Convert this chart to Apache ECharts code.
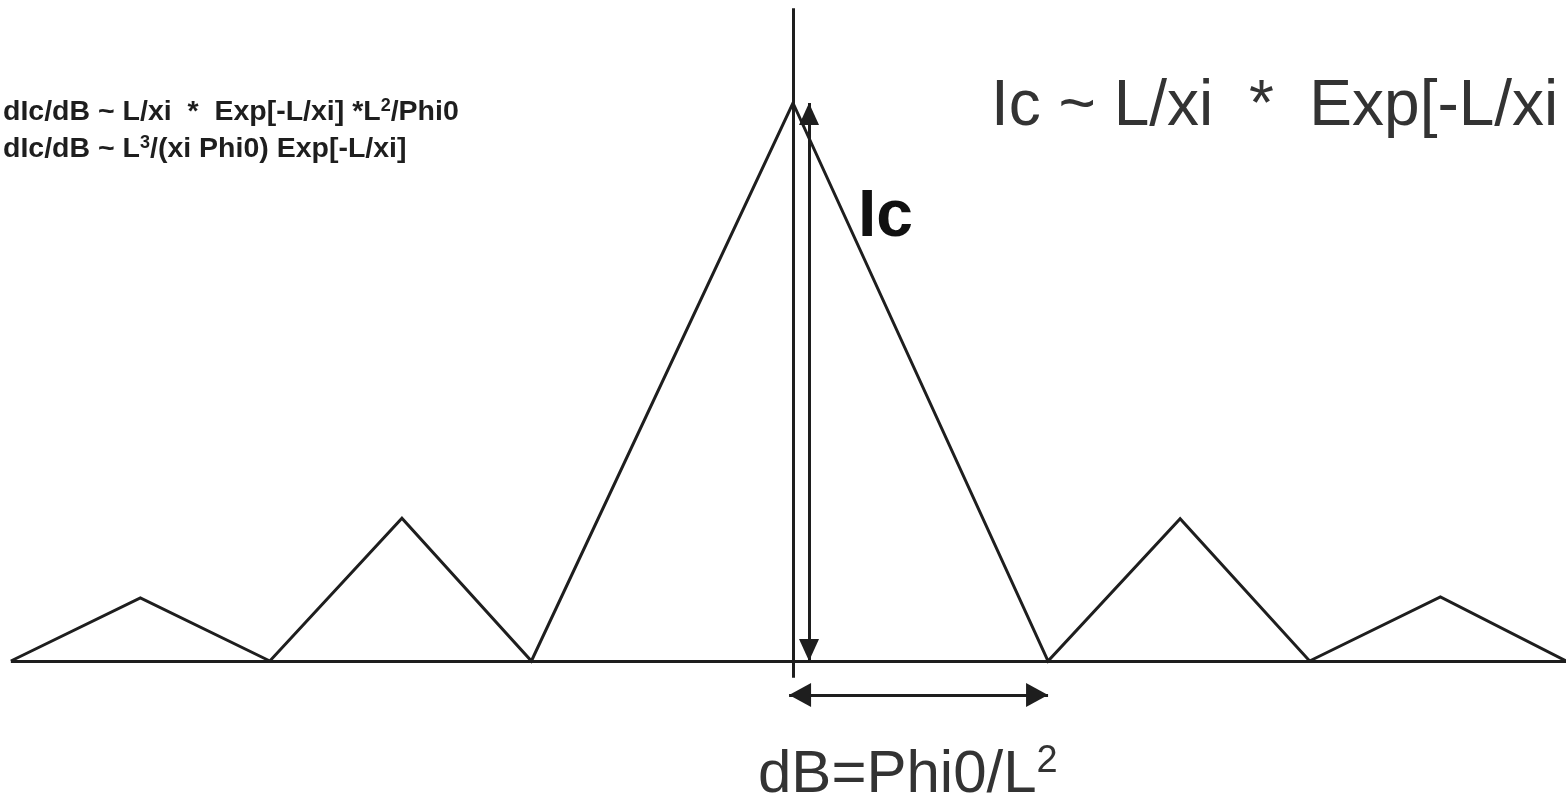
<!DOCTYPE html>
<html>
<head>
<meta charset="utf-8">
<title>Ic interference pattern</title>
<script src="https://cdn.jsdelivr.net/npm/echarts@6/dist/echarts.min.js"></script>
<style>
  html, body { margin: 0; padding: 0; background: #ffffff; }
  #chart { width: 1566px; height: 804px; }
</style>
</head>
<body>
<div id="chart"></div>
<script>
// Field position in units of one period dB (centre lobe at 0)
const fieldB = [-3.02, -2.52, -2.02, -1.51, -1.01, 0, 0.985, 1.495, 1.995, 2.5, 2.985];
// Critical current, normalised to the central maximum
const criticalCurrent = [0, 0.113, 0, 0.256, 0, 1, 0, 0.255, 0, 0.115, 0];

// Annotation geometry, in the same axis units
const centreLine = { x: 0, from: 1.17, to: -0.03 };
const icArrow = { x: 0.062, from: 0, to: 1 };
const periodArrow = { y: -0.061, from: -0.015, to: 0.985 };

const ink = '#1e1e1e';
const curve = fieldB.map((b, i) => [b, criticalCurrent[i]]);

// Arrow heads sit with their tip on the end point of the line
function arrowEnd(coord, size) {
  return { coord: coord, symbol: 'triangle', symbolSize: size, symbolOffset: [0, size[1] / 2] };
}

const smallRich = {
  b: { fontFamily: 'Liberation Sans', fontWeight: 'bold', fontSize: 28.5, lineHeight: 30, verticalAlign: 'bottom', fill: ink },
  s: { fontFamily: 'Liberation Sans', fontWeight: 'bold', fontSize: 18, lineHeight: 30, verticalAlign: 'top', fill: ink }
};

const chart = echarts.init(document.getElementById('chart'), null, { renderer: 'canvas' });

chart.setOption({
  backgroundColor: '#ffffff',
  animation: false,
  grid: { left: 0, right: 0, top: 2.56, bottom: 103.94 },
  xAxis: {
    type: 'value', min: -3.062, max: 2.985,
    show: false
  },
  yAxis: {
    type: 'value', min: -0.07, max: 1.18,
    show: false
  },
  series: [
    {
      type: 'line',
      data: curve,
      clip: false,
      showSymbol: false,
      lineStyle: { color: ink, width: 3, join: 'miter' },
      markLine: {
        silent: true,
        symbol: 'none',
        label: { show: false },
        lineStyle: { color: ink, width: 3, type: 'solid' },
        data: [
          // baseline under the lobes
          [{ coord: [fieldB[0], 0] }, { coord: [fieldB[fieldB.length - 1], 0] }],
          // centre marker
          [{ coord: [centreLine.x, centreLine.from] }, { coord: [centreLine.x, centreLine.to] }]
        ]
      }
    },
    {
      type: 'line',
      data: [],
      clip: false,
      markLine: {
        silent: true,
        label: { show: false },
        lineStyle: { color: ink, width: 3, type: 'solid' },
        itemStyle: { color: ink },
        data: [
          [arrowEnd([icArrow.x, icArrow.from], [20, 22]), arrowEnd([icArrow.x, icArrow.to], [20, 22])],
          [arrowEnd([periodArrow.from, periodArrow.y], [24, 22]), arrowEnd([periodArrow.to, periodArrow.y], [24, 22])]
        ]
      }
    }
  ],
  graphic: [
    {
      type: 'text', left: 3, top: 97,
      style: {
        text: '{b|dIc/dB ~ L/xi  *  Exp[-L/xi] *L}{s|2}{b|/Phi0}',
        fill: ink,
        rich: smallRich
      }
    },
    {
      type: 'text', left: 3, top: 134,
      style: {
        text: '{b|dIc/dB ~ L}{s|3}{b|/(xi Phi0) Exp[-L/xi]}',
        fill: ink,
        rich: smallRich
      }
    },
    {
      type: 'text', left: 991, top: 75,
      style: {
        text: 'Ic ~ L/xi  *  Exp[-L/xi',
        font: '64px "Liberation Sans"',
        fill: '#333333'
      }
    },
    {
      type: 'text', left: 858, top: 185,
      style: {
        text: 'Ic',
        font: 'bold 66px "Liberation Sans"',
        fill: '#111111'
      }
    },
    {
      type: 'text', left: 758, top: 743,
      style: {
        text: '{b|dB=Phi0/L}{s|2}',
        rich: {
          b: { fontFamily: 'Liberation Sans', fontSize: 60, lineHeight: 62, verticalAlign: 'bottom', fill: '#333333' },
          s: { fontFamily: 'Liberation Sans', fontSize: 38, lineHeight: 62, verticalAlign: 'top', fill: '#333333' }
        }
      }
    }
  ]
});
</script>
</body>
</html>
